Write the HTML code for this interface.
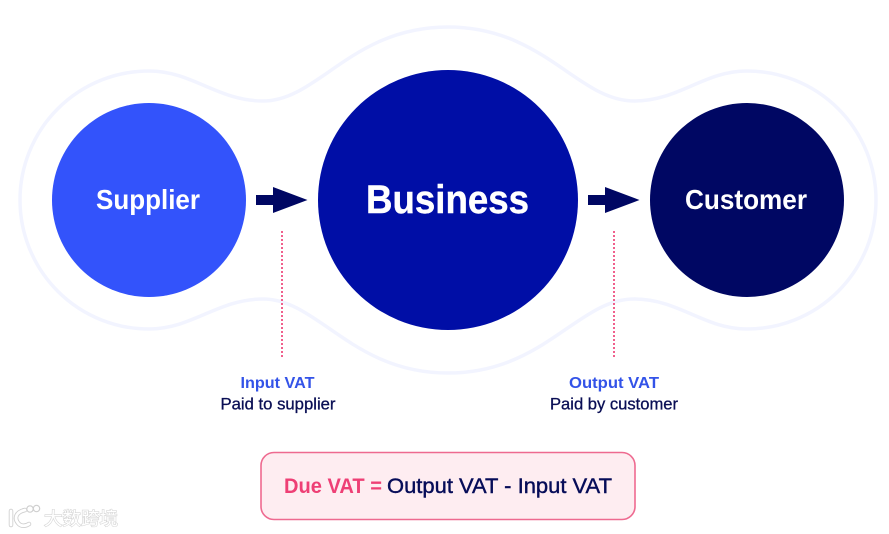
<!DOCTYPE html>
<html lang="en">
<head>
<meta charset="utf-8">
<title>VAT diagram</title>
<style>
html,body{margin:0;padding:0;background:#fff;width:889px;height:534px;overflow:hidden}
svg{display:block;font-family:"Liberation Sans","Noto Sans CJK SC",sans-serif}
</style>
</head>
<body>
<svg xmlns="http://www.w3.org/2000/svg" width="889" height="534" viewBox="0 0 889 534">
<rect width="889" height="534" fill="#fff"/>
<path d="M149 71 C192 71 218 101 263 101 C318 101 352 27 448 27 C544 27 578 101 634 101 C679 101 704 71 747 71 A129 129 0 0 1 747 329 C704 329 679 299 634 299 C578 299 544 373 448 373 C352 373 318 299 263 299 C218 299 192 329 149 329 A129 129 0 0 1 149 71 Z" fill="none" stroke="#f2f4ff" stroke-width="3.500"/>
<circle cx="149" cy="200" r="97" fill="#3353fb"/>
<circle cx="448" cy="200" r="130" fill="#000ea6"/>
<circle cx="747" cy="200" r="97" fill="#000763"/>
<text x="96" y="209" font-size="28" font-weight="700" fill="#fff" textLength="104" lengthAdjust="spacingAndGlyphs">Supplier</text>
<text x="366" y="213" font-size="40" font-weight="700" fill="#fff" stroke="#fff" stroke-width=".4" textLength="163" lengthAdjust="spacingAndGlyphs">Business</text>
<text x="685" y="209" font-size="28" font-weight="700" fill="#fff" textLength="122" lengthAdjust="spacingAndGlyphs">Customer</text>
<path d="M256 195 H273 V187 L307.500 200 L273 213 V205 H256 Z" fill="#000763"/>
<path d="M588 195 H605 V187 L639.500 200 L605 213 V205 H588 Z" fill="#000763"/>
<line x1="282" y1="231" x2="282" y2="358" stroke="#f0608c" stroke-width="2" stroke-dasharray="2 2"/>
<line x1="614" y1="231" x2="614" y2="358" stroke="#f0608c" stroke-width="2" stroke-dasharray="2 2"/>
<text x="240.500" y="388" font-size="16" font-weight="700" fill="#3353e8" textLength="74" lengthAdjust="spacingAndGlyphs">Input VAT</text>
<text x="220.500" y="409.500" font-size="16.500" fill="#0a0f55" stroke="#0a0f55" stroke-width=".3" textLength="115" lengthAdjust="spacingAndGlyphs">Paid to supplier</text>
<text x="569" y="388" font-size="16" font-weight="700" fill="#3353e8" textLength="90" lengthAdjust="spacingAndGlyphs">Output VAT</text>
<text x="550" y="409.500" font-size="16.500" fill="#0a0f55" stroke="#0a0f55" stroke-width=".3" textLength="128" lengthAdjust="spacingAndGlyphs">Paid by customer</text>
<rect x="261" y="452.500" width="374" height="67" rx="13" fill="#feedf1" stroke="#ee6a90" stroke-width="1.600"/>
<text x="284" y="493" font-size="21" font-weight="700" fill="#ee3f75" textLength="98" lengthAdjust="spacingAndGlyphs">Due VAT =</text>
<text x="387" y="493" font-size="21" fill="#060c58" stroke="#060c58" stroke-width=".4" textLength="225" lengthAdjust="spacingAndGlyphs">Output VAT - Input VAT</text>
<g fill="none" stroke="#cfcfcf" stroke-linecap="round" stroke-width="4.500">
<path d="M11 511 V525"/>
<path d="M25 510 C16 512 14 518 18 523 C21 527 26 526 29 524"/>
</g>
<g fill="none" stroke="#fff" stroke-linecap="round" stroke-width="2.800">
<path d="M11 511 V525"/>
<path d="M25 510 C16 512 14 518 18 523 C21 527 26 526 29 524"/>
</g>
<g fill="#fff" stroke="#cfcfcf" stroke-width="1.200">
<circle cx="30" cy="509" r="3.200"/>
<circle cx="36.500" cy="508.500" r="3.200"/>
</g>
<text x="44" y="525" font-size="18" fill="#fff" stroke="#d6d6d6" stroke-width="1.200" paint-order="stroke" textLength="74" lengthAdjust="spacingAndGlyphs">大数跨境</text>
</svg>
</body>
</html>
